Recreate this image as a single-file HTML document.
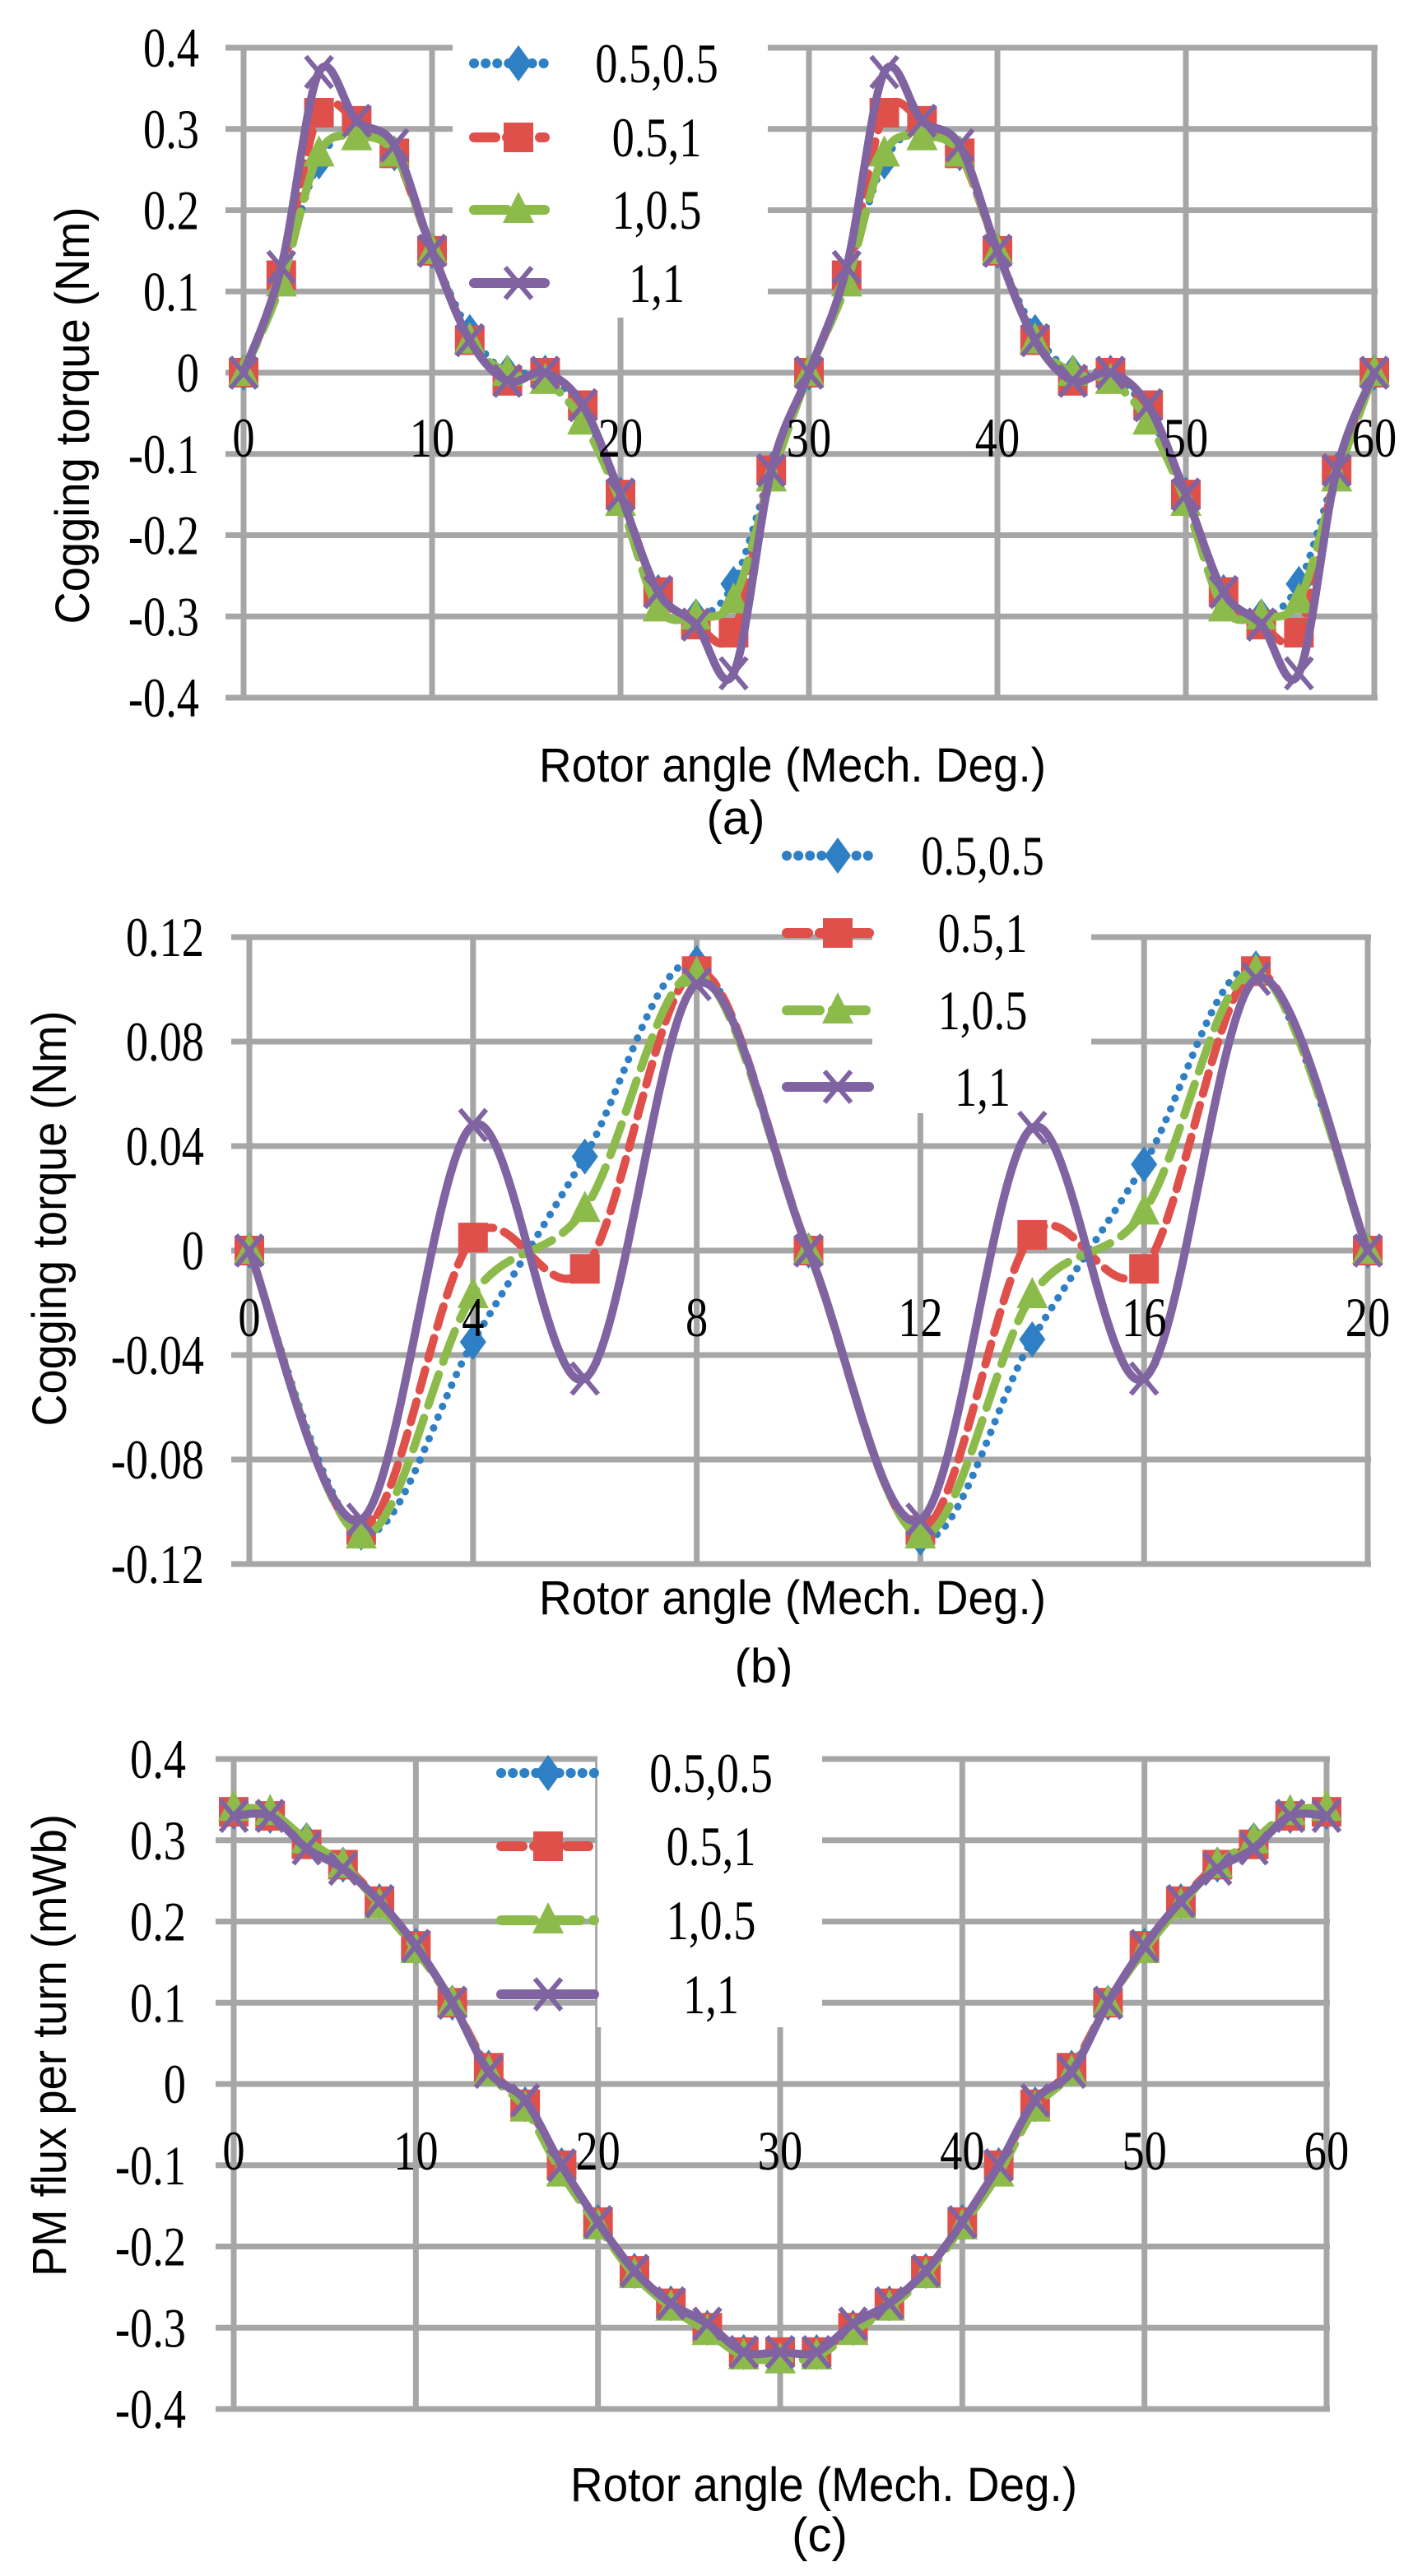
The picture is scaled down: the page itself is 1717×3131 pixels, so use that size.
<!DOCTYPE html>
<html><head><meta charset="utf-8"><style>
html,body{margin:0;padding:0;background:#fff;}
svg{display:block;}
.tk{font-family:"Liberation Serif",serif;font-size:68px;fill:#000;}
.tt{font-family:"Liberation Sans",sans-serif;font-size:58px;fill:#000;}
</style></head><body>
<svg id="fig" width="1717" height="3131" viewBox="0 0 1717 3131" xmlns="http://www.w3.org/2000/svg">
<rect width="1717" height="3131" fill="#fff"/>
</svg>
<script>
// ---------- data ----------
const seriesNames = ["0.5,0.5","0.5,1","1,0.5","1,1"];
const aX = [0,2,4,6,8,10,12,14,16,18,20,22,24,26,28,30,32,34,36,38,40,42,44,46,48,50,52,54,56,58,60];
const aS1 = [0,0.12,0.26,0.30,0.27,0.15,0.05,0,0,-0.05,-0.15,-0.27,-0.30,-0.26,-0.12,0,0.12,0.26,0.30,0.27,0.15,0.05,0,0,-0.05,-0.15,-0.27,-0.30,-0.26,-0.12,0];
const aS2 = [0,0.12,0.32,0.31,0.27,0.15,0.04,-0.01,0,-0.04,-0.15,-0.27,-0.31,-0.32,-0.12,0,0.12,0.32,0.31,0.27,0.15,0.04,-0.01,0,-0.04,-0.15,-0.27,-0.31,-0.32,-0.12,0];
const aS3 = [0,0.11,0.27,0.29,0.27,0.15,0.04,0,-0.01,-0.06,-0.16,-0.29,-0.30,-0.28,-0.13,0,0.11,0.27,0.29,0.27,0.15,0.04,0,-0.01,-0.06,-0.16,-0.29,-0.30,-0.28,-0.13,0];
const aS4 = [0,0.13,0.37,0.31,0.28,0.15,0.04,-0.01,0,-0.04,-0.15,-0.27,-0.31,-0.37,-0.12,0,0.13,0.37,0.31,0.28,0.15,0.04,-0.01,0,-0.04,-0.15,-0.27,-0.31,-0.37,-0.12,0];
const aYTicks = ["0.4","0.3","0.2","0.1","0","-0.1","-0.2","-0.3","-0.4"];
const aXTicks = ["0","10","20","30","40","50","60"];

const bX = [0,2,4,6,8,10,12,14,16,18,20];
const bS1 = [0,-0.108,-0.035,0.036,0.110,0,-0.110,-0.034,0.033,0.108,0];
const bS2 = [0,-0.107,0.005,-0.007,0.107,0,-0.107,0.006,-0.007,0.107,0];
const bS3 = [0,-0.109,-0.017,0.016,0.106,0,-0.109,-0.017,0.015,0.107,0];
const bS4 = [0,-0.103,0.048,-0.049,0.102,0,-0.103,0.047,-0.049,0.104,0];
const bYTicks = ["0.12","0.08","0.04","0","-0.04","-0.08","-0.12"];
const bXTicks = ["0","4","8","12","16","20"];

const cX = aX;
const cS1 = [0.335,0.33,0.30,0.27,0.225,0.17,0.10,0.02,-0.025,-0.10,-0.17,-0.23,-0.27,-0.30,-0.33,-0.335,-0.33,-0.30,-0.27,-0.23,-0.17,-0.10,-0.025,0.02,0.10,0.17,0.225,0.27,0.30,0.33,0.335];
const cS2 = [0.335,0.33,0.295,0.27,0.225,0.17,0.10,0.02,-0.025,-0.10,-0.17,-0.23,-0.27,-0.30,-0.33,-0.33,-0.33,-0.30,-0.27,-0.23,-0.17,-0.10,-0.025,0.02,0.10,0.17,0.225,0.27,0.295,0.33,0.335];
const cS3 = [0.34,0.335,0.30,0.27,0.22,0.165,0.10,0.015,-0.03,-0.11,-0.175,-0.235,-0.275,-0.305,-0.335,-0.34,-0.335,-0.305,-0.275,-0.235,-0.175,-0.11,-0.03,0.015,0.10,0.165,0.22,0.27,0.30,0.335,0.34];
const cS4 = [0.33,0.33,0.29,0.265,0.225,0.17,0.10,0.015,-0.02,-0.10,-0.17,-0.23,-0.27,-0.295,-0.33,-0.33,-0.33,-0.295,-0.27,-0.23,-0.17,-0.10,-0.02,0.015,0.10,0.17,0.225,0.265,0.29,0.33,0.33];
const cYTicks = aYTicks;
const cXTicks = aXTicks;
// ---------- drawing ----------
const NS="http://www.w3.org/2000/svg";
const svg=document.getElementById('fig');
const colors=["#2e7fc4","#e0504b","#8cbb4b","#8064a2"];
const dashes=["0.1 14","26 14","40 16",""];
function el(tag,attrs,parent){const e=document.createElementNS(NS,tag);for(const k in attrs)e.setAttribute(k,attrs[k]);(parent||svg).appendChild(e);return e;}
function smoothPath(pts){
  let d="M"+pts[0][0]+","+pts[0][1];
  for(let i=0;i<pts.length-1;i++){
    const p0=pts[Math.max(i-1,0)],p1=pts[i],p2=pts[i+1],p3=pts[Math.min(i+2,pts.length-1)];
    const c1x=p1[0]+(p2[0]-p0[0])/6,c1y=p1[1]+(p2[1]-p0[1])/6;
    const c2x=p2[0]-(p3[0]-p1[0])/6,c2y=p2[1]-(p3[1]-p1[1])/6;
    d+=" C"+c1x+","+c1y+" "+c2x+","+c2y+" "+p2[0]+","+p2[1];
  }
  return d;
}
function marker(g,k,x,y){
  const c=colors[k];let m;
  if(k===0){m=el('polygon',{points:`${x},${y-22} ${x+16},${y} ${x},${y+22} ${x-16},${y}`,fill:c},g);}
  else if(k===1){m=el('rect',{x:x-18,y:y-18,width:36,height:36,fill:c},g);}
  else if(k===2){m=el('polygon',{points:`${x},${y-22} ${x+19},${y+16} ${x-19},${y+16}`,fill:c},g);}
  else {m=el('path',{d:`M${x-16},${y-19} L${x+16},${y+19} M${x-16},${y+19} L${x+16},${y-19}`,stroke:c,'stroke-width':6,fill:'none'},g);}
  return m;
}
function tkText(g,s,x,y,anchor){
  const t=el('text',{x:0,y:0,'text-anchor':anchor,class:'tk',transform:`translate(${x},${y}) scale(0.8,1)`},g);
  t.textContent=s;
  return t;
}
function chart(c){
  const g=el('g',{});
  
  
  const xs=v=>c.x0+(v-c.xmin)/(c.xmax-c.xmin)*(c.x1-c.x0);
  const ys=v=>c.y0+(c.ymax-v)/(c.ymax-c.ymin)*(c.y1-c.y0);
  const nY=c.yt.length;
  for(let i=0;i<nY;i++){
    const y=c.y0+i*(c.y1-c.y0)/(nY-1);
    const l=el('line',{x1:c.x0-22,x2:c.x1+4,y1:y,y2:y,stroke:'#a6a6a6','stroke-width':7},g);
    
    
  }
  const nX=c.xt.length;
  for(let i=0;i<nX;i++){
    const x=c.x0+i*(c.x1-c.x0)/(nX-1);
    const l=el('line',{x1:x,x2:x,y1:c.y0-3,y2:c.y1+3,stroke:'#a6a6a6','stroke-width':7},g);
    
    
  }
  const lb=el('rect',{x:c.lbx0,y:c.lby0,width:c.lbx1-c.lbx0,height:c.lby1-c.lby0,fill:'#fff'},g);
  
  
  c.series.forEach((arr,k)=>{
    const sg=el('g',{},g);
    
    
    const pts=c.xv.map((v,i)=>[xs(v),ys(arr[i])]);
    const p=el('path',{d:smoothPath(pts),fill:'none',stroke:colors[k],'stroke-width':k===0?9:10,'stroke-linecap':'round','stroke-dasharray':dashes[k]},sg);
    
    
    pts.forEach(q=>{const m=marker(sg,k,q[0],q[1]);
      
      });
  });
  seriesNames.forEach((nm,k)=>{
    const lg=el('g',{},g);
    
    
    const y=c.ly[k];
    el('line',{x1:c.lsx0,x2:c.lsx1,y1:y,y2:y,stroke:colors[k],'stroke-width':12,'stroke-linecap':'round','stroke-dasharray':dashes[k]},lg);
    marker(lg,k,c.lmx,y);
    tkText(lg,nm,c.ltx,y+23,'middle');
  });
  c.yt.forEach((s,i)=>{
    const t=tkText(g,s,c.ytx,c.y0+i*(c.y1-c.y0)/(nY-1)+23,'end');
    
    
  });
  c.xt.forEach((s,i)=>{
    const t=tkText(g,s,c.x0+i*(c.x1-c.x0)/(nX-1),c.xty,'middle');
    
    
  });
  const xt=el('text',{x:c.xtitle[0],y:c.xtitle[1],'text-anchor':'middle',class:'tt',textLength:616,lengthAdjust:'spacingAndGlyphs'},g);
  xt.textContent="Rotor angle (Mech. Deg.)";
  
  
  const yt=el('text',{x:0,y:0,'text-anchor':'middle',class:'tt',textLength:c.ytitle[3],lengthAdjust:'spacingAndGlyphs',transform:`translate(${c.ytitle[0]+20},${c.ytitle[1]}) rotate(-90)`},g);
  yt.textContent=c.ytitle[2];
  
  
  const cp=el('text',{x:c.cap[0],y:c.cap[1]+20,'text-anchor':'middle',class:'tt'},g);
  cp.textContent=c.cap[2];
  
  
}
chart({name:'chart-a',x0:296,x1:1670,y0:58,y1:848,xmin:0,xmax:60,ymin:-0.4,ymax:0.4,
  xv:aX,series:[aS1,aS2,aS3,aS4],yt:aYTicks,xt:aXTicks,ytx:242,xty:555,
  lbx0:550,lbx1:933,lby0:0,lby1:386,lsx0:576,lsx1:662,lmx:630,ltx:798,ly:[77,167,255,344],
  xtitle:[963,950],ytitle:[88,505,"Cogging torque (Nm)",507],cap:[894,994,"(a)"]});
chart({name:'chart-b',x0:303,x1:1662,y0:1139,y1:1901,xmin:0,xmax:20,ymin:-0.12,ymax:0.12,
  xv:bX,series:[bS1,bS2,bS3,bS4],yt:bYTicks,xt:bXTicks,ytx:248,xty:1624,
  lbx0:1060,lbx1:1326,lby0:1000,lby1:1353,lsx0:956,lsx1:1056,lmx:1018,ltx:1194,ly:[1040,1134,1228,1321],
  xtitle:[963,1962],ytitle:[60,1481,"Cogging torque (Nm)",505],cap:[928,2025,"(b)"]});
chart({name:'chart-c',x0:284,x1:1612,y0:2138,y1:2928,xmin:0,xmax:60,ymin:-0.4,ymax:0.4,
  xv:cX,series:[cS1,cS2,cS3,cS4],yt:cYTicks,xt:cXTicks,ytx:226,xty:2637,
  lbx0:726,lbx1:999,lby0:2050,lby1:2464,lsx0:609,lsx1:722,lmx:666,ltx:864,ly:[2155,2244,2334,2424],
  xtitle:[1001,3040],ytitle:[60,2486,"PM flux per turn (mWb)",562],cap:[996,3081,"(c)"]});
</script>
</body></html>
